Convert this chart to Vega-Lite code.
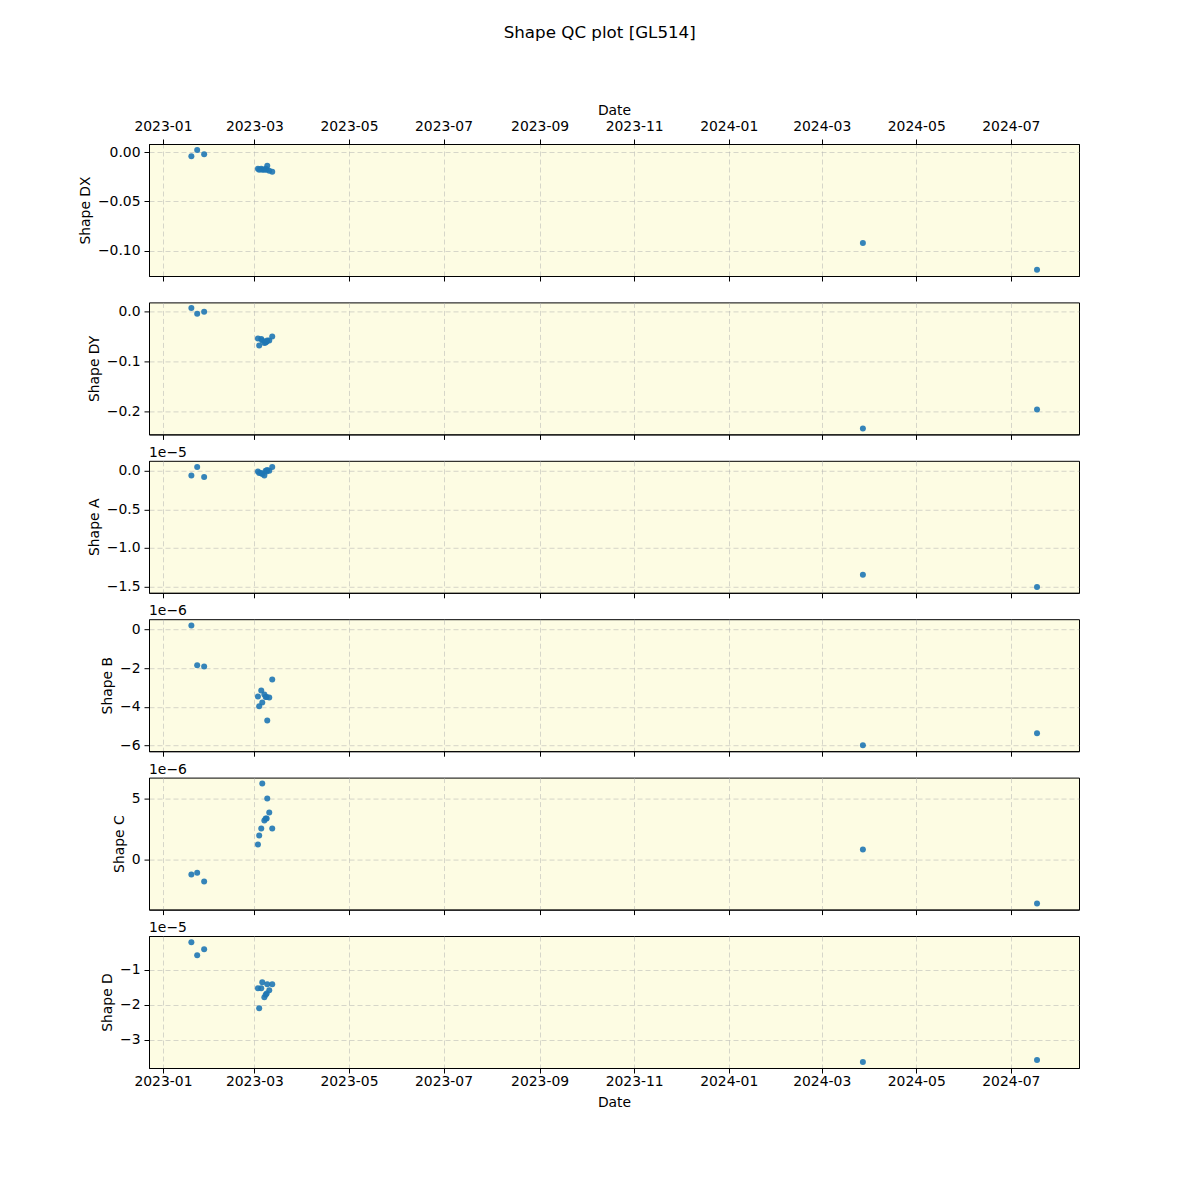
{
  "$schema": "https://vega.github.io/schema/vega-lite/v6.json",
  "padding": {"left": 77, "top": 24, "right": 20, "bottom": 20},
  "bounds": "flush",
  "spacing": 26.4,
  "title": {"text": "Shape QC plot [GL514]", "font": "DejaVu Sans", "fontSize": 16.7, "fontWeight": "normal", "color": "black", "anchor": "middle", "frame": "bounds", "offset": 61, "dx": 21},
  "data": {"values": [
    {"date": "2023-01-19T08:00:00Z", "dx": -0.0044, "dy": 0.0066, "a": -6e-7, "b": 1.9e-7, "c": -1.23e-6, "d": -2.1e-6},
    {"date": "2023-01-23T02:00:00Z", "dx": 0.0020, "dy": -0.0047, "a": 5e-7, "b": -1.86e-6, "c": -1.07e-6, "d": -5.8e-6},
    {"date": "2023-01-27T14:00:00Z", "dx": -0.0023, "dy": -0.0007, "a": -8e-7, "b": -1.92e-6, "c": -1.80e-6, "d": -4.1e-6},
    {"date": "2023-03-03T07:00:00Z", "dx": -0.017, "dy": -0.054, "a": -1e-7, "b": -3.47e-6, "c": 1.23e-6, "d": -1.52e-5},
    {"date": "2023-03-04T02:00:00Z", "dx": -0.018, "dy": -0.068, "a": -3e-7, "b": -3.97e-6, "c": 1.97e-6, "d": -2.09e-5},
    {"date": "2023-03-05T10:00:00Z", "dx": -0.017, "dy": -0.055, "a": -3e-7, "b": -3.16e-6, "c": 2.54e-6, "d": -1.52e-5},
    {"date": "2023-03-06T02:00:00Z", "dx": -0.018, "dy": -0.058, "a": -4e-7, "b": -3.78e-6, "c": 6.23e-6, "d": -1.35e-5},
    {"date": "2023-03-07T10:00:00Z", "dx": -0.018, "dy": -0.063, "a": -6e-7, "b": -3.37e-6, "c": 3.2e-6, "d": -1.78e-5},
    {"date": "2023-03-08T07:00:00Z", "dx": -0.017, "dy": -0.062, "a": 0, "b": -3.50e-6, "c": 3.36e-6, "d": -1.71e-5},
    {"date": "2023-03-08T22:00:00Z", "dx": -0.018, "dy": -0.060, "a": -1e-7, "b": -3.50e-6, "c": 3.36e-6, "d": -1.67e-5},
    {"date": "2023-03-09T07:00:00Z", "dx": -0.014, "dy": -0.058, "a": 1e-7, "b": -4.71e-6, "c": 5.0e-6, "d": -1.41e-5},
    {"date": "2023-03-10T14:00:00Z", "dx": -0.019, "dy": -0.058, "a": 0, "b": -3.52e-6, "c": 3.85e-6, "d": -1.58e-5},
    {"date": "2023-03-12T12:00:00Z", "dx": -0.020, "dy": -0.050, "a": 5e-7, "b": -2.59e-6, "c": 2.54e-6, "d": -1.41e-5},
    {"date": "2024-03-27T14:00:00Z", "dx": -0.092, "dy": -0.234, "a": -1.35e-5, "b": -5.98e-6, "c": 8.2e-7, "d": -3.63e-5},
    {"date": "2024-07-17T22:00:00Z", "dx": -0.119, "dy": -0.196, "a": -1.51e-5, "b": -5.36e-6, "c": -3.6e-6, "d": -3.57e-5}
  ]},
  "vconcat": [
    {
      "width": 930, "height": 132,
      "layer": [
        {
          "mark": {"type": "circle", "size": 36, "opacity": 0.9, "color": "#1f77b4"},
          "encoding": {
            "x": {"field": "date", "type": "temporal",
                  "scale": {"type": "utc", "domain": [{"year": 2022, "month": 12, "date": 23, "utc": true}, {"year": 2024, "month": 8, "date": 14, "utc": true}]},
                  "axis": {"orient": "top", "title": "Date", "format": "%Y-%m", "labelFlush": false, "labelPadding": 6, "titlePadding": 2,
                           "values": [{"year": 2023, "month": 1, "date": 1, "utc": true}, {"year": 2023, "month": 3, "date": 1, "utc": true}, {"year": 2023, "month": 5, "date": 1, "utc": true}, {"year": 2023, "month": 7, "date": 1, "utc": true}, {"year": 2023, "month": 9, "date": 1, "utc": true}, {"year": 2023, "month": 11, "date": 1, "utc": true}, {"year": 2024, "month": 1, "date": 1, "utc": true}, {"year": 2024, "month": 3, "date": 1, "utc": true}, {"year": 2024, "month": 5, "date": 1, "utc": true}, {"year": 2024, "month": 7, "date": 1, "utc": true}]}},
            "y": {"field": "dx", "type": "quantitative", "scale": {"domain": [-0.1253, 0.0081], "nice": false, "zero": false},
                  "axis": {"title": "Shape DX", "values": [0, -0.05, -0.1], "labelExpr": "replace(format(datum.value, '.2f'), '-', '−')"}}
          }
        },
        {
          "mark": {"type": "circle", "size": 36, "opacity": 0},
          "encoding": {
            "x": {"field": "date", "type": "temporal",
                  "scale": {"type": "utc", "domain": [{"year": 2022, "month": 12, "date": 23, "utc": true}, {"year": 2024, "month": 8, "date": 14, "utc": true}]},
                  "axis": {"orient": "bottom", "title": null, "labels": false, "grid": false,
                           "values": [{"year": 2023, "month": 1, "date": 1, "utc": true}, {"year": 2023, "month": 3, "date": 1, "utc": true}, {"year": 2023, "month": 5, "date": 1, "utc": true}, {"year": 2023, "month": 7, "date": 1, "utc": true}, {"year": 2023, "month": 9, "date": 1, "utc": true}, {"year": 2023, "month": 11, "date": 1, "utc": true}, {"year": 2024, "month": 1, "date": 1, "utc": true}, {"year": 2024, "month": 3, "date": 1, "utc": true}, {"year": 2024, "month": 5, "date": 1, "utc": true}, {"year": 2024, "month": 7, "date": 1, "utc": true}]}},
            "y": {"field": "dx", "type": "quantitative", "scale": {"domain": [-0.1253, 0.0081], "nice": false, "zero": false},
                  "axis": {"title": "Shape DX", "values": [0, -0.05, -0.1], "labelExpr": "replace(format(datum.value, '.2f'), '-', '−')"}}
          }
        }
      ],
      "resolve": {"axis": {"x": "independent"}}
    },
    {
      "width": 930, "height": 132,
      "mark": {"type": "circle", "size": 36, "opacity": 0.9, "color": "#1f77b4"},
      "encoding": {
        "x": {"field": "date", "type": "temporal",
              "scale": {"type": "utc", "domain": [{"year": 2022, "month": 12, "date": 23, "utc": true}, {"year": 2024, "month": 8, "date": 14, "utc": true}]},
              "axis": {"title": null, "labels": false,
                       "values": [{"year": 2023, "month": 1, "date": 1, "utc": true}, {"year": 2023, "month": 3, "date": 1, "utc": true}, {"year": 2023, "month": 5, "date": 1, "utc": true}, {"year": 2023, "month": 7, "date": 1, "utc": true}, {"year": 2023, "month": 9, "date": 1, "utc": true}, {"year": 2023, "month": 11, "date": 1, "utc": true}, {"year": 2024, "month": 1, "date": 1, "utc": true}, {"year": 2024, "month": 3, "date": 1, "utc": true}, {"year": 2024, "month": 5, "date": 1, "utc": true}, {"year": 2024, "month": 7, "date": 1, "utc": true}]}},
        "y": {"field": "dy", "type": "quantitative", "scale": {"domain": [-0.246, 0.018], "nice": false, "zero": false},
              "axis": {"title": "Shape DY", "values": [0, -0.1, -0.2], "labelExpr": "replace(format(datum.value, '.1f'), '-', '−')"}}
      }
    },
    {
      "width": 930, "height": 132,
      "title": {"text": "1e−5"},
      "mark": {"type": "circle", "size": 36, "opacity": 0.9, "color": "#1f77b4"},
      "encoding": {
        "x": {"field": "date", "type": "temporal",
              "scale": {"type": "utc", "domain": [{"year": 2022, "month": 12, "date": 23, "utc": true}, {"year": 2024, "month": 8, "date": 14, "utc": true}]},
              "axis": {"title": null, "labels": false,
                       "values": [{"year": 2023, "month": 1, "date": 1, "utc": true}, {"year": 2023, "month": 3, "date": 1, "utc": true}, {"year": 2023, "month": 5, "date": 1, "utc": true}, {"year": 2023, "month": 7, "date": 1, "utc": true}, {"year": 2023, "month": 9, "date": 1, "utc": true}, {"year": 2023, "month": 11, "date": 1, "utc": true}, {"year": 2024, "month": 1, "date": 1, "utc": true}, {"year": 2024, "month": 3, "date": 1, "utc": true}, {"year": 2024, "month": 5, "date": 1, "utc": true}, {"year": 2024, "month": 7, "date": 1, "utc": true}]}},
        "y": {"field": "a", "type": "quantitative", "scale": {"domain": [-1.584e-5, 0.13e-5], "nice": false, "zero": false},
              "axis": {"title": "Shape A", "values": [0, -0.5e-5, -1e-5, -1.5e-5], "labelExpr": "replace(format(datum.value / 1e-5, '.1f'), '-', '−')"}}
      }
    },
    {
      "width": 930, "height": 132,
      "title": {"text": "1e−6"},
      "mark": {"type": "circle", "size": 36, "opacity": 0.9, "color": "#1f77b4"},
      "encoding": {
        "x": {"field": "date", "type": "temporal",
              "scale": {"type": "utc", "domain": [{"year": 2022, "month": 12, "date": 23, "utc": true}, {"year": 2024, "month": 8, "date": 14, "utc": true}]},
              "axis": {"title": null, "labels": false,
                       "values": [{"year": 2023, "month": 1, "date": 1, "utc": true}, {"year": 2023, "month": 3, "date": 1, "utc": true}, {"year": 2023, "month": 5, "date": 1, "utc": true}, {"year": 2023, "month": 7, "date": 1, "utc": true}, {"year": 2023, "month": 9, "date": 1, "utc": true}, {"year": 2023, "month": 11, "date": 1, "utc": true}, {"year": 2024, "month": 1, "date": 1, "utc": true}, {"year": 2024, "month": 3, "date": 1, "utc": true}, {"year": 2024, "month": 5, "date": 1, "utc": true}, {"year": 2024, "month": 7, "date": 1, "utc": true}]}},
        "y": {"field": "b", "type": "quantitative", "scale": {"domain": [-6.29e-6, 0.52e-6], "nice": false, "zero": false},
              "axis": {"title": "Shape B", "values": [0, -2e-6, -4e-6, -6e-6], "labelExpr": "replace(format(datum.value / 1e-6, 'd'), '-', '−')"}}
      }
    },
    {
      "width": 930, "height": 132,
      "title": {"text": "1e−6"},
      "mark": {"type": "circle", "size": 36, "opacity": 0.9, "color": "#1f77b4"},
      "encoding": {
        "x": {"field": "date", "type": "temporal",
              "scale": {"type": "utc", "domain": [{"year": 2022, "month": 12, "date": 23, "utc": true}, {"year": 2024, "month": 8, "date": 14, "utc": true}]},
              "axis": {"title": null, "labels": false,
                       "values": [{"year": 2023, "month": 1, "date": 1, "utc": true}, {"year": 2023, "month": 3, "date": 1, "utc": true}, {"year": 2023, "month": 5, "date": 1, "utc": true}, {"year": 2023, "month": 7, "date": 1, "utc": true}, {"year": 2023, "month": 9, "date": 1, "utc": true}, {"year": 2023, "month": 11, "date": 1, "utc": true}, {"year": 2024, "month": 1, "date": 1, "utc": true}, {"year": 2024, "month": 3, "date": 1, "utc": true}, {"year": 2024, "month": 5, "date": 1, "utc": true}, {"year": 2024, "month": 7, "date": 1, "utc": true}]}},
        "y": {"field": "c", "type": "quantitative", "scale": {"domain": [-4.10e-6, 6.72e-6], "nice": false, "zero": false},
              "axis": {"title": "Shape C", "values": [0, 5e-6], "labelExpr": "replace(format(datum.value / 1e-6, 'd'), '-', '−')"}}
      }
    },
    {
      "width": 930, "height": 132,
      "title": {"text": "1e−5"},
      "mark": {"type": "circle", "size": 36, "opacity": 0.9, "color": "#1f77b4"},
      "encoding": {
        "x": {"field": "date", "type": "temporal",
              "scale": {"type": "utc", "domain": [{"year": 2022, "month": 12, "date": 23, "utc": true}, {"year": 2024, "month": 8, "date": 14, "utc": true}]},
              "axis": {"title": "Date", "format": "%Y-%m", "labelFlush": false, "labelPadding": 1, "titlePadding": 8,
                       "values": [{"year": 2023, "month": 1, "date": 1, "utc": true}, {"year": 2023, "month": 3, "date": 1, "utc": true}, {"year": 2023, "month": 5, "date": 1, "utc": true}, {"year": 2023, "month": 7, "date": 1, "utc": true}, {"year": 2023, "month": 9, "date": 1, "utc": true}, {"year": 2023, "month": 11, "date": 1, "utc": true}, {"year": 2024, "month": 1, "date": 1, "utc": true}, {"year": 2024, "month": 3, "date": 1, "utc": true}, {"year": 2024, "month": 5, "date": 1, "utc": true}, {"year": 2024, "month": 7, "date": 1, "utc": true}]}},
        "y": {"field": "d", "type": "quantitative", "scale": {"domain": [-3.80e-5, -0.029e-5], "nice": false, "zero": false},
              "axis": {"title": "Shape D", "values": [-1e-5, -2e-5, -3e-5], "labelExpr": "replace(format(datum.value / 1e-5, 'd'), '-', '−')"}}
      }
    }
  ],
  "config": {
    "font": "DejaVu Sans",
    "view": {"fill": "#FDFCE3", "stroke": "black", "strokeWidth": 1},
    "title": {"anchor": "start", "frame": "group", "fontSize": 13.9, "fontWeight": "normal", "font": "DejaVu Sans", "color": "black", "offset": 1},
    "axis": {"domainColor": "black", "domainWidth": 1, "tickColor": "black", "tickSize": 5, "tickWidth": 1,
             "labelFont": "DejaVu Sans", "labelFontSize": 13.9, "labelColor": "black", "labelPadding": 4,
             "titleFont": "DejaVu Sans", "titleFontSize": 13.9, "titleFontWeight": "normal", "titleColor": "black", "titlePadding": 5,
             "grid": true, "gridColor": "#b0b0b0", "gridOpacity": 0.5, "gridDash": [5, 3], "gridWidth": 1}
  }
}
